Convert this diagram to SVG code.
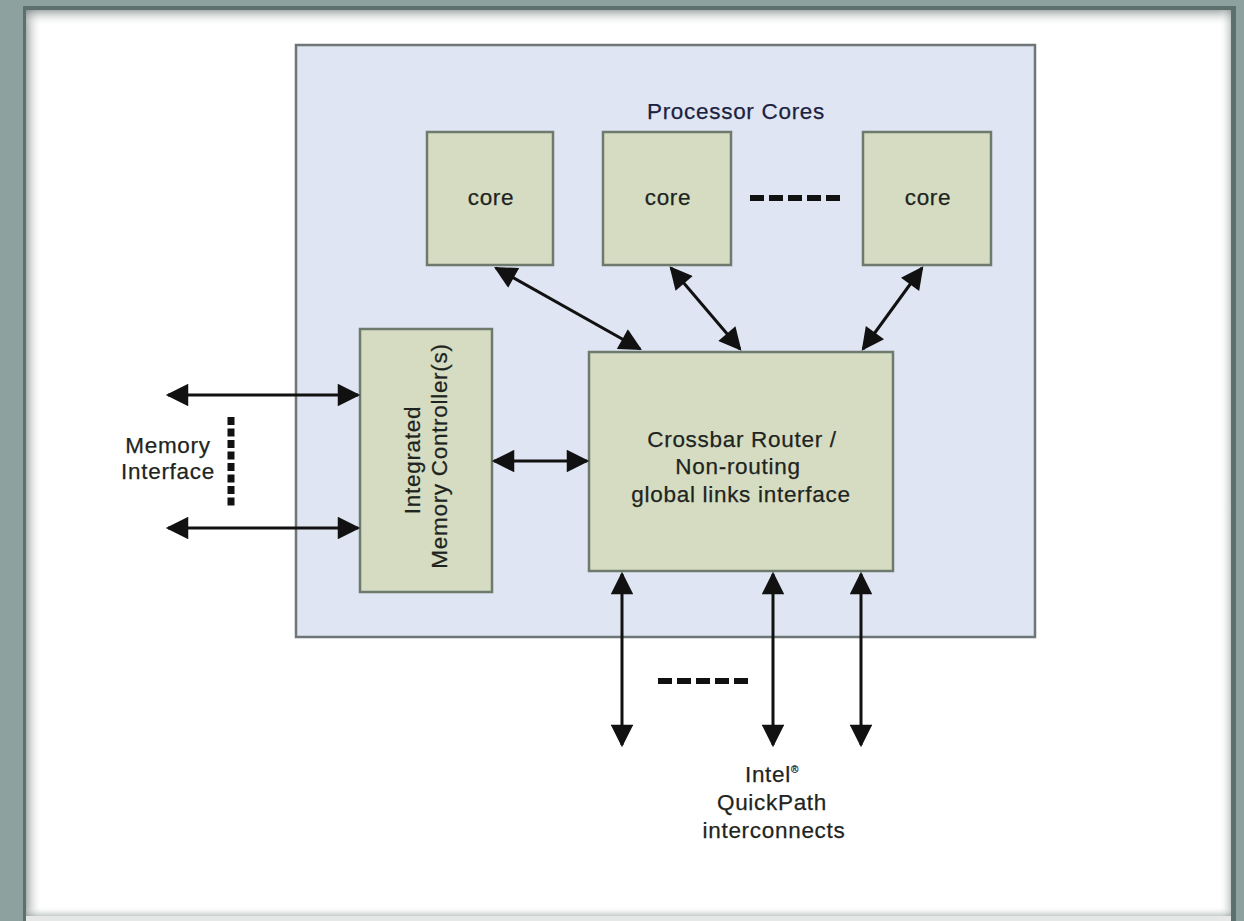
<svg xmlns="http://www.w3.org/2000/svg" width="1244" height="921" viewBox="0 0 1244 921">
  <defs>
    <style>
      .lbl { font-family: "Liberation Sans", Arial, sans-serif; font-size: 22.5px; letter-spacing: 0.7px; fill: #1e2420; text-anchor: middle; stroke: #1e2420; stroke-width: 0.25; }
      .box { fill: #d5dcc2; stroke: #6f7a6f; stroke-width: 2.5; }
      .conn { stroke: #111; stroke-width: 3; fill: none; marker-start: url(#head); marker-end: url(#head); }
      .dots { stroke: #111; stroke-width: 6; stroke-dasharray: 14 5; fill: none; }
      .vdots { stroke: #111; stroke-width: 7; stroke-dasharray: 8 3.5; fill: none; }
    </style>
    <marker id="head" viewBox="0 0 10 10" refX="9" refY="5" markerWidth="8.5" markerHeight="7.5" markerUnits="strokeWidth" orient="auto-start-reverse">
      <path d="M0,0 L10,5 L0,10 z" fill="#111"/>
    </marker>
    <linearGradient id="shadeL" x1="0" y1="0" x2="1" y2="0">
      <stop offset="0" stop-color="#6d7a78" stop-opacity="0.6"/>
      <stop offset="1" stop-color="#ffffff" stop-opacity="0"/>
    </linearGradient>
    <linearGradient id="shadeT" x1="0" y1="0" x2="0" y2="1">
      <stop offset="0" stop-color="#6d7a78" stop-opacity="0.6"/>
      <stop offset="1" stop-color="#ffffff" stop-opacity="0"/>
    </linearGradient>
    <linearGradient id="shadeR" x1="1" y1="0" x2="0" y2="0">
      <stop offset="0" stop-color="#8a9896" stop-opacity="0.5"/>
      <stop offset="1" stop-color="#ffffff" stop-opacity="0"/>
    </linearGradient>
    <linearGradient id="shadeB" x1="0" y1="1" x2="0" y2="0">
      <stop offset="0" stop-color="#8a9896" stop-opacity="0.5"/>
      <stop offset="1" stop-color="#ffffff" stop-opacity="0"/>
    </linearGradient>
  </defs>

  <!-- window frame -->
  <rect x="0" y="0" width="1244" height="921" fill="#8da19e"/>
  <rect x="23" y="6" width="1213" height="915" fill="#5d706e"/>
  <rect x="26" y="10" width="1205" height="906" fill="#ffffff"/>
  <rect x="26" y="10" width="16" height="906" fill="url(#shadeL)"/>
  <rect x="26" y="10" width="1205" height="16" fill="url(#shadeT)"/>
  <rect x="1219" y="10" width="12" height="906" fill="url(#shadeR)"/>
  <rect x="26" y="906" width="1205" height="10" fill="url(#shadeB)"/>
  <rect x="26" y="916" width="1205" height="5" fill="#e6e8e8"/>

  <!-- processor package -->
  <g id="package">
    <rect x="296" y="45" width="739" height="592" fill="#dfe5f2" stroke="#6e7676" stroke-width="2.5"/>
    <text class="lbl" x="736" y="119" style="fill:#1c2140;stroke:#1c2140">Processor Cores</text>
  </g>

  <g id="core1">
    <rect class="box" x="427" y="132" width="126" height="133"/>
    <text class="lbl" x="491" y="205">core</text>
  </g>
  <g id="core2">
    <rect class="box" x="603" y="132" width="128" height="133"/>
    <text class="lbl" x="668" y="205">core</text>
  </g>
  <g id="core3">
    <rect class="box" x="863" y="132" width="128" height="133"/>
    <text class="lbl" x="928" y="205">core</text>
  </g>

  <g id="imc">
    <rect class="box" x="360" y="329" width="132" height="263"/>
    <text class="lbl" transform="translate(420,460) rotate(-90)">Integrated</text>
    <text class="lbl" transform="translate(447,456) rotate(-90)">Memory Controller(s)</text>
  </g>

  <g id="crossbar">
    <rect class="box" x="589" y="352" width="304" height="219"/>
    <text class="lbl" x="742" y="447">Crossbar Router /</text>
    <text class="lbl" x="738" y="474">Non-routing</text>
    <text class="lbl" x="741" y="502">global links interface</text>
  </g>

  <g id="memory-interface">
    <text class="lbl" x="168" y="453">Memory</text>
    <text class="lbl" x="168" y="479">Interface</text>
  </g>

  <g id="qpi-label">
    <text class="lbl" x="772" y="782">Intel<tspan font-size="10" dy="-9">®</tspan></text>
    <text class="lbl" x="772" y="810">QuickPath</text>
    <text class="lbl" x="774" y="838">interconnects</text>
  </g>

  <!-- connectors -->
  <g id="connectors">
    <line class="conn" x1="496" y1="268" x2="640" y2="349"/>
    <line class="conn" x1="671" y1="268" x2="740" y2="349"/>
    <line class="conn" x1="922" y1="268" x2="863" y2="349"/>
    <line class="conn" x1="494" y1="461" x2="587" y2="461"/>
    <line class="conn" x1="168" y1="395" x2="358" y2="395"/>
    <line class="conn" x1="168" y1="528" x2="358" y2="528"/>
    <line class="conn" x1="622" y1="574" x2="622" y2="745"/>
    <line class="conn" x1="773" y1="574" x2="773" y2="745"/>
    <line class="conn" x1="861" y1="574" x2="861" y2="745"/>
    <line class="dots" x1="750" y1="198" x2="840" y2="198"/>
    <line class="dots" x1="658" y1="681" x2="752" y2="681"/>
    <line class="vdots" x1="231" y1="417" x2="231" y2="506"/>
  </g>
</svg>
